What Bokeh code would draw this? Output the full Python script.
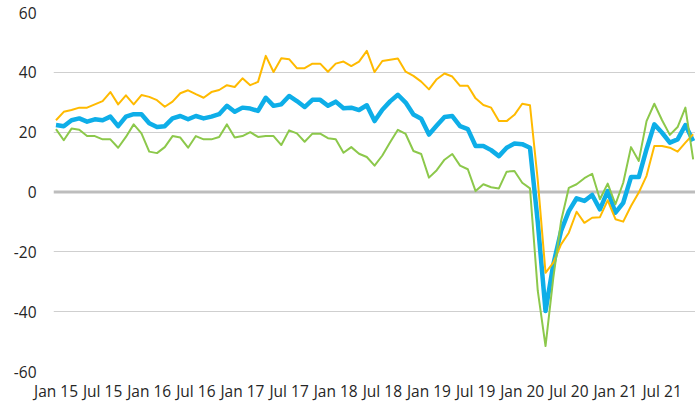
from bokeh.plotting import figure
from bokeh.models import FixedTicker, Span, Range1d
from bokeh.embed import file_html
from bokeh.resources import INLINE

tick_labels = ["Jan 15", "Jul 15", "Jan 16", "Jul 16", "Jan 17", "Jul 17", "Jan 18",
               "Jul 18", "Jan 19", "Jul 19", "Jan 20", "Jul 20", "Jan 21", "Jul 21"]

orange = [24, 26.8, 27.4, 28.2, 28.2, 29.3, 30.4, 33.4, 29.3, 32.3, 29.3, 32.4,
          31.8, 30.7, 28.5, 30.2, 33, 34, 32.7, 31.5, 33.4, 34.1, 35.7, 35.1,
          38, 35.7, 36.8, 45.5, 40.1, 44.7, 44.4, 41.4, 41.4, 42.9, 42.9, 40.2,
          42.9, 43.6, 42.1, 43.6, 47.2, 40.1, 43.8, 44.2, 44.6, 40.2, 38.8, 36.9,
          34.3, 37.7, 39.6, 38.6, 35.5, 35.5, 31.3, 29.1, 28.2, 23.7, 23.7, 25.8,
          29.5, 29, 4, -27, -23.6, -17.5, -13.6, -6.6, -10.3, -8.6, -8.4, -2.8,
          -9.1, -9.9, -4.7, -0.2, 5.4, 15.4, 15.4, 14.8, 13.5, 16.5, 19.3]

blue = [22.4, 22, 24, 24.6, 23.5, 24.3, 24, 25.2, 22, 25.2, 26, 26,
        23, 21.7, 22, 24.6, 25.4, 24.3, 25.4, 24.6, 25.2, 26, 28.8, 26.8,
        28.2, 27.9, 27.1, 31.5, 28.8, 29.3, 32.1, 30.4, 28.4, 30.8, 30.8, 28.8,
        30.2, 28, 28.2, 27.4, 29, 23.7, 27.5, 30.3, 32.5, 29.9, 25.9, 24.5,
        19.2, 22.2, 25.1, 25.4, 22, 21, 15.4, 15.4, 14, 12, 14.8, 16.2,
        16, 14.8, -10, -39.8, -24.2, -13, -6.4, -2.1, -3, -1, -5.8, 0.3,
        -6.9, -3.6, 5, 5, 14.3, 22.6, 19.8, 16.5, 17.6, 22.4, 17]

green = [21, 17.3, 21.2, 20.8, 18.7, 18.7, 17.6, 17.6, 14.8, 18.4, 22.6, 19.6,
         13.5, 13, 15, 18.7, 18.2, 14.8, 18.7, 17.6, 17.6, 18.4, 22.6, 18.2,
         18.7, 20, 18.4, 18.7, 18.7, 15.7, 20.6, 19.6, 16.8, 19.5, 19.5, 18,
         17.6, 13.1, 15, 12.8, 11.7, 8.8, 12.2, 16.6, 20.8, 19.4, 13.7, 12.7,
         4.8, 7.3, 10.8, 12.7, 8.8, 7.6, 0.3, 2.6, 1.6, 1.2, 6.8, 7,
         3.1, 1.2, -33, -51.5, -28.7, -9.7, 1.4, 2.6, 4.6, 6.1, -2.4, 2.8,
         -4.1, 3.1, 15, 10.4, 23.7, 29.5, 24, 19.1, 21.7, 28.2, 10.9]

y_ticks = [-60, -40, -20, 0, 20, 40, 60]

x = list(range(len(blue)))
x_ticks = [6 * k for k in range(len(tick_labels))]

FONT = "Open Sans"
TXT = "#262626"

p = figure(width=695, height=404, output_backend="svg", toolbar_location=None,
           x_range=Range1d(-0.32, 82.3), y_range=Range1d(-60, 60),
           min_border_left=53, min_border_right=0, min_border_top=12,
           min_border_bottom=33)
p.outline_line_color = None
p.background_fill_color = "white"
p.border_fill_color = "white"

p.xgrid.visible = False
p.ygrid.ticker = FixedTicker(ticks=[t for t in y_ticks if t != 0])
p.ygrid.grid_line_color = "#cfcfcf"
p.ygrid.grid_line_width = 1

zero = Span(location=0, dimension="width", line_color="#bdbdbd", line_width=3, level="underlay")
p.add_layout(zero)

p.line(x, blue, line_color="#0eaee8", line_width=4.5, line_join="round")
p.line(x, orange, line_color="#ffba00", line_width=2, line_join="round")
p.line(x, green, line_color="#8cc84b", line_width=2, line_join="round")

p.yaxis.ticker = FixedTicker(ticks=y_ticks)
p.yaxis.major_label_overrides = {t: str(t) for t in y_ticks}
p.xaxis.ticker = FixedTicker(ticks=x_ticks)
p.xaxis.major_label_overrides = {t: lab for t, lab in zip(x_ticks, tick_labels)}

for ax in (p.xaxis, p.yaxis):
    ax.axis_line_color = None
    ax.major_tick_line_color = None
    ax.minor_tick_line_color = None
    ax.major_tick_out = 0
    ax.major_tick_in = 0
    ax.minor_tick_out = 0
    ax.minor_tick_in = 0
    ax.major_label_text_font = FONT
    ax.major_label_text_font_size = "15.5px"
    ax.major_label_text_color = TXT
p.yaxis.major_label_standoff = 17
p.xaxis.major_label_standoff = 8

open("out.html", "w").write(file_html(p, INLINE))
